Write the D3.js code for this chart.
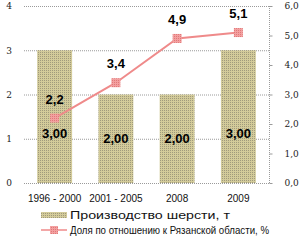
<!DOCTYPE html>
<html>
<head>
<meta charset="utf-8">
<script src="https://cdn.jsdelivr.net/npm/d3@7"></script>
<style>
  html, body { margin: 0; padding: 0; background: #fff; }
  svg { display: block; }
</style>
</head>
<body>
<div id="chart"></div>
<script>
const categories = ['1996 - 2000', '2001 - 2005', '2008', '2009']
const woolValues = [3, 2, 2, 3]
const shareValues = [2.2, 3.4, 4.9, 5.1]
const leftTicks = [0, 1, 2, 3, 4]
const rightTicks = [0, 1, 2, 3, 4, 5, 6]
const legendLabels = ['Производство шерсти, т', 'Доля по отношению к Рязанской области, %']

const width = 302, height = 241
const plot = { left: 24, right: 269, top: 6, bottom: 183 }
const lineColor = '#ef8a8a'
const fmt = (v, d) => v.toFixed(d).replace('.', ',')

const svg = d3.select('#chart')
    .append('svg')
    .attr('width', width)
    .attr('height', height)

// dotted fill like the excel pattern
const defs = svg.append('defs')
const pat = defs.append('pattern')
    .attr('id', 'dots')
    .attr('width', 2).attr('height', 2)
    .attr('patternUnits', 'userSpaceOnUse')
pat.append('rect').attr('width', 2).attr('height', 2).attr('fill', '#d3cb9a')
pat.append('rect').attr('width', 1).attr('height', 1).attr('fill', '#a09a7c')
const pat2 = defs.append('pattern')
    .attr('id', 'mdots')
    .attr('width', 2).attr('height', 2)
    .attr('patternUnits', 'userSpaceOnUse')
pat2.append('rect').attr('width', 2).attr('height', 2).attr('fill', '#f3a0a0')
pat2.append('rect').attr('width', 1).attr('height', 1).attr('fill', '#e07878')

const xScale = d3.scaleBand().domain(categories).range([plot.left, plot.right]).paddingInner(0.43).paddingOuter(0.215)
const yLeft = d3.scaleLinear().domain([0, 4]).range([plot.bottom, plot.top])
const yRight = d3.scaleLinear().domain([0, 6]).range([plot.bottom, plot.top])

// grid lines
svg.append('g')
    .selectAll('line')
    .data(leftTicks)
    .enter()
    .append('line')
    .attr('x1', plot.left)
    .attr('x2', plot.right)
    .attr('y1', d => yLeft(d) + 0.5)
    .attr('y2', d => yLeft(d) + 0.5)
    .attr('stroke', '#9a9a9a')
    .attr('stroke-dasharray', '1,1')

// right border
svg.append('line')
    .attr('x1', plot.right + 0.5).attr('x2', plot.right + 0.5)
    .attr('y1', plot.top).attr('y2', plot.bottom)
    .attr('stroke', '#9a9a9a')
    .attr('stroke-dasharray', '1,1')

// left axis
const leftAxis = d3.axisLeft(yLeft).tickValues(leftTicks).tickSize(0).tickPadding(12).tickFormat(d3.format('d'))
const gl = svg.append('g').attr('transform', `translate(${plot.left},0)`).call(leftAxis)
gl.select('.domain').remove()
gl.selectAll('text')
    .attr('font-family', 'DejaVu Serif')
    .attr('font-size', 9)
    .attr('fill', '#222')

// right axis
const rightAxis = d3.axisRight(yRight).tickValues(rightTicks).tickSize(3).tickPadding(12).tickFormat(d => fmt(d, 1))
const gr = svg.append('g').attr('transform', `translate(${plot.right + 0.5},0)`).call(rightAxis)
gr.select('.domain').remove()
gr.selectAll('.tick line').attr('stroke', '#9a9a9a')
gr.selectAll('text')
    .attr('font-family', 'DejaVu Serif')
    .attr('font-size', 9)
    .attr('fill', '#222')

// bottom labels
const bottomAxis = d3.axisBottom(xScale).tickSize(0).tickPadding(12)
const gb = svg.append('g').attr('transform', `translate(0,${plot.bottom})`).call(bottomAxis)
gb.select('.domain').remove()
gb.selectAll('text')
    .attr('font-family', 'Liberation Sans')
    .attr('font-size', 10)
    .attr('fill', '#111')

// bars
svg.append('g')
    .selectAll('rect')
    .data(woolValues)
    .enter()
    .append('rect')
    .attr('x', (d, i) => xScale(categories[i]))
    .attr('y', d => yLeft(d))
    .attr('width', xScale.bandwidth())
    .attr('height', d => yLeft(0) - yLeft(d))
    .attr('fill', 'url(#dots)')

// bar labels
svg.append('g')
    .selectAll('text')
    .data(woolValues)
    .enter()
    .append('text')
    .attr('x', (d, i) => xScale(categories[i]) + xScale.bandwidth() / 2)
    .attr('y', d => yLeft(Math.min(d / 2, 1.13)))
    .attr('dy', '0.36em')
    .attr('text-anchor', 'middle')
    .attr('font-family', 'Liberation Sans')
    .attr('font-weight', 'bold')
    .attr('font-size', 13)
    .attr('fill', '#000')
    .text(d => fmt(d, 2))

// line
const cx = (d, i) => xScale(categories[i]) + xScale.bandwidth() / 2
const line = d3.line()
    .x((d, i) => cx(d, i))
    .y(d => yRight(d))
svg.append('path')
    .attr('d', line(shareValues))
    .attr('fill', 'none')
    .attr('stroke', lineColor)
    .attr('stroke-width', 2)

svg.append('g')
    .selectAll('rect')
    .data(shareValues)
    .enter()
    .append('rect')
    .attr('x', (d, i) => cx(d, i) - 4.5)
    .attr('y', d => yRight(d) - 4.5)
    .attr('width', 9)
    .attr('height', 9)
    .attr('fill', 'url(#mdots)')

svg.append('g')
    .selectAll('text')
    .data(shareValues)
    .enter()
    .append('text')
    .attr('x', (d, i) => cx(d, i))
    .attr('y', d => yRight(d) - 19)
    .attr('dy', '0.36em')
    .attr('text-anchor', 'middle')
    .attr('font-family', 'Liberation Sans')
    .attr('font-weight', 'bold')
    .attr('font-size', 13)
    .attr('fill', '#000')
    .text(d => fmt(d, 1))

// legend
const legend = svg.append('g').attr('transform', 'translate(41,215)')
legend.append('rect')
    .attr('x', 0).attr('y', -3)
    .attr('width', 26).attr('height', 6)
    .attr('fill', 'url(#dots)')
legend.append('line')
    .attr('x1', 0).attr('x2', 26)
    .attr('y1', 15).attr('y2', 15)
    .attr('stroke', lineColor)
    .attr('stroke-width', 1.5)
legend.append('rect')
    .attr('x', 9).attr('y', 11)
    .attr('width', 8).attr('height', 8)
    .attr('fill', 'url(#mdots)')
const legendWidths = [160, 199]
legend.selectAll('text.lg')
    .data(legendLabels)
    .enter()
    .append('text')
    .attr('class', 'lg')
    .attr('x', 29)
    .attr('y', (d, i) => i * 15)
    .attr('dy', '0.35em')
    .attr('font-family', 'Liberation Sans')
    .attr('font-size', (d, i) => i === 0 ? 11 : 10)
    .attr('textLength', (d, i) => legendWidths[i])
    .attr('lengthAdjust', 'spacingAndGlyphs')
    .attr('fill', '#111')
    .text(d => d)
</script>
</body>
</html>
